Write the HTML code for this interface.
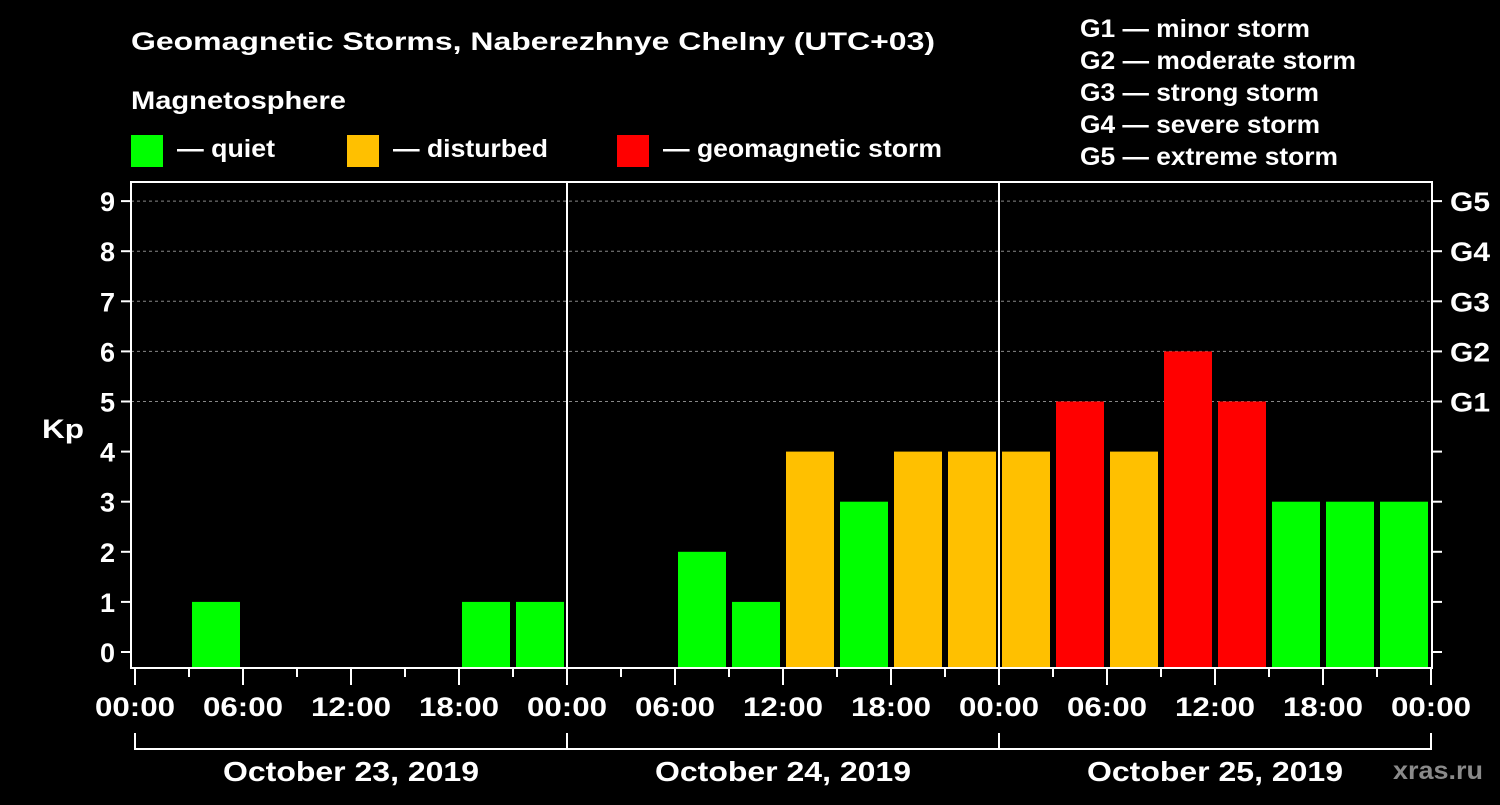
<!DOCTYPE html>
<html><head><meta charset="utf-8"><style>
body{margin:0;background:#000;}
svg text{font-family:"Liberation Sans",Arial,sans-serif;font-weight:bold;fill:#fff;}
</style></head><body>
<svg id="c" width="1500" height="800" xmlns="http://www.w3.org/2000/svg">
<rect width="1500" height="800" fill="#000"/>
<text x="131" y="50" font-size="25" textLength="804" lengthAdjust="spacingAndGlyphs">Geomagnetic Storms, Naberezhnye Chelny (UTC+03)</text>
<text x="131" y="109" font-size="25" textLength="215" lengthAdjust="spacingAndGlyphs">Magnetosphere</text>
<g>
<rect x="131" y="135" width="32" height="32" fill="#00ff00"/>
<text x="177" y="157" font-size="25" textLength="98" lengthAdjust="spacingAndGlyphs">— quiet</text>
<rect x="347" y="135" width="32" height="32" fill="#ffc000"/>
<text x="393" y="157" font-size="25" textLength="155" lengthAdjust="spacingAndGlyphs">— disturbed</text>
<rect x="617" y="135" width="32" height="32" fill="#ff0000"/>
<text x="663" y="157" font-size="25" textLength="279" lengthAdjust="spacingAndGlyphs">— geomagnetic storm</text>
</g>
<g font-size="25">
<text x="1080" y="37" textLength="230" lengthAdjust="spacingAndGlyphs">G1 — minor storm</text>
<text x="1080" y="69" textLength="276" lengthAdjust="spacingAndGlyphs">G2 — moderate storm</text>
<text x="1080" y="101" textLength="239" lengthAdjust="spacingAndGlyphs">G3 — strong storm</text>
<text x="1080" y="133" textLength="240" lengthAdjust="spacingAndGlyphs">G4 — severe storm</text>
<text x="1080" y="165" textLength="258" lengthAdjust="spacingAndGlyphs">G5 — extreme storm</text>
</g>
<text x="42" y="438" font-size="27" textLength="42" lengthAdjust="spacingAndGlyphs">Kp</text>
<text x="1393" y="779" font-size="25" textLength="90" lengthAdjust="spacingAndGlyphs" style="fill:#8a8a8a">xras.ru</text>
<g id="plot"></g>
</svg>
<script>
const kpValues=[0,1,0,0,0,0,1,1, 0,0,2,1,4,3,4,4, 4,5,4,6,5,3,3,3];
const dayLabels=["October 23, 2019","October 24, 2019","October 25, 2019"];
const hourLabels=["00:00","06:00","12:00","18:00"];
const gLabels=["G1","G2","G3","G4","G5"];
const yTicks=[0,1,2,3,4,5,6,7,8,9];

const NS="http://www.w3.org/2000/svg";
const g=document.getElementById('plot');
const X0=135, SLOT=54, Y0=652, UNIT=50.1, TOP=182, BOT=668, RIGHT=1432;
const x=i=>X0+i*SLOT;
const y=v=>Y0-v*UNIT;
function mk(tag,attrs,parent){const e=document.createElementNS(NS,tag);for(const k in attrs)e.setAttribute(k,attrs[k]);(parent||g).appendChild(e);return e;}

for(let v=5;v<=9;v++){
  const l=mk('line',{x1:131,x2:RIGHT,y1:y(v),y2:y(v),stroke:'#888','stroke-dasharray':'3,3','stroke-width':1});
  
  
}
kpValues.forEach((v,i)=>{
  if(v<=0)return;
  const col=v>=5?'#ff0000':(v>=4?'#ffc000':'#00ff00');
  const r=mk('rect',{x:x(i)+3,y:y(v),width:48,height:BOT-y(v),fill:col});
  
  
});
for(let d=1;d<3;d++){
  const l=mk('line',{x1:x(d*8),x2:x(d*8),y1:TOP,y2:BOT,stroke:'#fff','stroke-width':2});
  
  
}
const fr=mk('rect',{x:131,y:TOP,width:RIGHT-131,height:BOT-TOP,fill:'none',stroke:'#fff','stroke-width':2});


yTicks.forEach(v=>{
  mk('line',{x1:121,x2:131,y1:y(v),y2:y(v),stroke:'#fff','stroke-width':2});
  mk('line',{x1:RIGHT,x2:RIGHT+10,y1:y(v),y2:y(v),stroke:'#fff','stroke-width':2});
  const t=mk('text',{x:115,y:y(v)+10,'font-size':27,'text-anchor':'end'});
  t.textContent=v;
  
  
});
gLabels.forEach((s,i)=>{
  const t=mk('text',{x:1450,y:y(i+5)+10,'font-size':27,textLength:40,lengthAdjust:'spacingAndGlyphs'});
  t.textContent=s;
  
  
});
for(let i=0;i<=24;i++){
  const major=i%2===0;
  mk('line',{x1:x(i),x2:x(i),y1:BOT,y2:BOT+(major?17:9),stroke:'#fff','stroke-width':2});
  if(major){
    const t=mk('text',{x:x(i)-40,y:716,'font-size':27,textLength:80,lengthAdjust:'spacingAndGlyphs'});
    t.textContent=hourLabels[(i/2)%4];
    
    
  }
}
dayLabels.forEach((s,d)=>{
  const a=x(d*8),b=x(d*8+8);
  mk('path',{d:`M${a},733 V749 H${b} V733`,fill:'none',stroke:'#fff','stroke-width':2});
  const t=mk('text',{x:(a+b)/2-128,y:781,'font-size':28,textLength:256,lengthAdjust:'spacingAndGlyphs'});
  t.textContent=s;
  
  
});
</script>
</body></html>
